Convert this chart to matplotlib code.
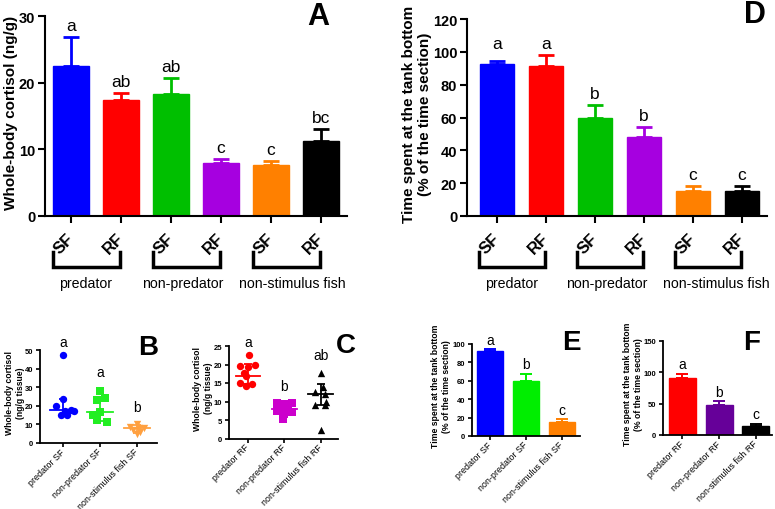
import matplotlib.pyplot as plt
import matplotlib.transforms as mtransforms
import numpy as np

plt.rcParams.update({
    'font.family': ['Liberation Sans', 'DejaVu Sans'],
    'axes.unicode_minus': False,
})

# ── colours ─────────────────────────────────────────────
BLUE = '#0000ff'
RED = '#ff0000'
GREEN = '#00bf00'
LIME = '#00ee00'
PURPLE = '#a600e0'
MAGENTA = '#cc00cc'
DPURPLE = '#660099'
ORANGE = '#ff8000'
LORANGE = '#ffa040'
BLACK = '#000000'

# ── data: panel A (cortisol) / D (time at bottom) ───────
BAR_TICKS = ['SF', 'RF', 'SF', 'RF', 'SF', 'RF']
GROUPS = ['predator', 'non-predator', 'non-stimulus fish']
A_MEAN = [22.5, 17.4, 18.3, 8.0, 7.6, 11.2]
A_ERR = [4.3, 1.0, 2.4, 0.5, 0.7, 1.8]
A_LET = ['a', 'ab', 'ab', 'c', 'c', 'bc']
D_MEAN = [92.8, 91.5, 59.5, 48.0, 15.5, 15.3]
D_ERR = [1.7, 6.5, 8.2, 6.0, 2.8, 3.0]
D_LET = ['a', 'a', 'b', 'b', 'c', 'c']
AD_COLORS = [BLUE, RED, GREEN, PURPLE, ORANGE, BLACK]

# ── data: panel B / C (individual cortisol) ─────────────
B_CATS = ['predator SF', 'non-predator SF', 'non-stimulus fish SF']
B_PTS = [
    [47.5, 23.6, 19.8, 17.6, 17.4, 17.3, 15.2, 14.8],
    [28.2, 24.1, 22.9, 16.6, 14.8, 12.1, 11.5],
    [10.0, 8.6, 8.3, 8.0, 7.0, 5.8, 4.6],
]
B_MED = [17.5, 16.6, 8.0]
B_LO = [15.0, 11.8, 5.6]
B_HI = [23.6, 23.5, 9.6]
B_LET = ['a', 'a', 'b']
B_LET_Y = [54.5, 38.0, 19.5]

C_CATS = ['predator RF', 'non-predator RF', 'non-stimulus fish RF']
C_PTS = [
    [22.5, 20.0, 19.5, 19.4, 17.6, 16.8, 15.0, 14.6, 14.1],
    [9.6, 9.5, 9.2, 8.6, 8.3, 7.5, 7.2, 6.5, 5.3],
    [17.8, 14.0, 12.5, 12.0, 10.0, 9.0, 9.0, 2.3],
]
C_MED = [16.8, 8.0, 12.0]
C_LO = [14.6, 7.0, 9.0]
C_HI = [20.1, 9.3, 14.6]
C_LET = ['a', 'b', 'ab']
C_LET_Y = [26.0, 14.2, 22.6]

# ── data: panel E / F (time at bottom, split) ───────────
E_CATS = ['predator SF', 'non-predator SF', 'non-stimulus fish SF']
E_MEAN = [92.8, 59.5, 15.5]
E_ERR = [1.7, 8.2, 2.8]
E_LET = ['a', 'b', 'c']
F_CATS = ['predator RF', 'non-predator RF', 'non-stimulus fish RF']
F_MEAN = [91.5, 48.0, 15.0]
F_ERR = [6.5, 6.0, 3.0]
F_LET = ['a', 'b', 'c']

# horizontal spread of the dots (GraphPad-style scatter)
B_JIT = [
    [0.0, 0.0, -0.2, 0.22, 0.05, 0.3, -0.05, 0.1],
    [0.0, 0.14, -0.09, 0.0, -0.2, -0.09, 0.2],
    [0.0, -0.2, 0.2, 0.05, -0.1, 0.08, 0.0],
]
C_JIT = [
    [0.03, 0.2, -0.22, 0.0, -0.1, -0.05, -0.22, 0.1, -0.05],
    [-0.2, 0.2, 0.0, -0.1, 0.1, -0.2, 0.2, 0.0, -0.05],
    [0.0, 0.05, -0.15, 0.1, 0.15, -0.15, 0.1, 0.0],
]

W, H = 775, 510
fig = plt.figure(figsize=(W / 100, H / 100), dpi=100)


def px_axes(left, right, top, bottom):
    return fig.add_axes([left / W, 1 - bottom / H, (right - left) / W, (bottom - top) / H])


def style(ax, lw, tl, tw, size):
    for s in ['top', 'right']:
        ax.spines[s].set_visible(False)
    for s in ['left', 'bottom']:
        ax.spines[s].set_linewidth(lw)
    ax.tick_params(direction='out', length=tl, width=tw, labelsize=size, pad=2)


def bars(ax, mean, err, colors, width, elw, cap, letters, let_y, fs, off):
    x = np.arange(len(mean))
    ax.bar(x, mean, width=width, color=colors, edgecolor=colors, zorder=2)
    for i in x:
        ax.errorbar(i, mean[i], yerr=[[0], [err[i]]], fmt='none', ecolor=colors[i],
                    elinewidth=elw, capsize=cap, capthick=elw, zorder=1)
        ax.annotate(letters[i], (i, let_y[i]), xytext=(0, off), textcoords='offset points',
                    ha='center', va='baseline', fontsize=fs, annotation_clip=False)


def big_panel(ax, ylim, yticks, ylabel, lab_x, label_x):
    style(ax, 1.5, 5, 1.5, 10.5)
    ax.set_ylim(*ylim)
    ax.set_yticks(yticks)
    ax.set_yticklabels([str(v) for v in yticks], fontweight='bold')
    ax.set_xticks(range(6))
    ax.set_xticklabels(BAR_TICKS, rotation=45, ha='right', va='center',
                       rotation_mode='anchor', fontweight='bold', fontsize=12)
    ax.tick_params(axis='x', pad=9)
    ax.set_ylabel(ylabel, fontsize=11, fontweight='bold')
    ax.yaxis.set_label_coords(lab_x, 0.52)
    trans = mtransforms.blended_transform_factory(ax.transData, ax.transAxes)
    h = ax.bbox.height
    y1, y2 = -36 / h, -51 / h
    for g, name in enumerate(GROUPS):
        l, r = 2 * g - 0.36, 2 * g + 0.98
        ax.plot([l, l, r, r], [y1, y2, y2, y1], color='black', lw=2.5,
                transform=trans, clip_on=False, solid_joinstyle='miter')
        ax.text(label_x[g], -67 / h, name, transform=trans, ha='center', va='center',
                fontsize=10.2)


def small_panel(ax, ylim, yticks, cats, ylabel, lab_x):
    style(ax, 1.3, 3, 1.2, 5.5)
    ax.set_ylim(*ylim)
    ax.set_yticks(yticks)
    ax.set_yticklabels([str(v) for v in yticks], fontweight='bold')
    ax.set_xticks(range(3))
    ax.set_xticklabels(cats, rotation=45, ha='right', va='center',
                       rotation_mode='anchor', fontsize=6.4)
    ax.tick_params(axis='x', pad=2)
    ax.set_ylabel(ylabel, fontsize=6.2, fontweight='bold', linespacing=1.3)
    ax.yaxis.set_label_coords(lab_x, 0.55)


def dots(ax, pts, jit, med, lo, hi, colors, markers, letters, let_y):
    for i in range(len(pts)):
        x = i + np.array(jit[i])
        ax.scatter(x, pts[i], s=28, marker=markers[i], color=colors[i], zorder=3,
                   clip_on=False, linewidths=0)
        ax.errorbar(i, med[i], yerr=[[med[i] - lo[i]], [hi[i] - med[i]]], fmt='none',
                    ecolor=colors[i], elinewidth=1.3, capsize=3, capthick=1.3, zorder=2)
        ax.plot([i - 0.34, i + 0.34], [med[i], med[i]], color=colors[i], lw=1.3, zorder=2)
        ax.text(i, let_y[i], letters[i], ha='center', va='center', fontsize=10,
                clip_on=False)


# ── panel A ─────────────────────────────────────────────
axA = px_axes(45, 347, 17, 217)
axA.set_xlim(-0.52, 5.52)
bars(axA, A_MEAN, A_ERR, AD_COLORS, 0.72, 2.0, 6,
     A_LET, np.add(A_MEAN, A_ERR), 12.5, 5)
big_panel(axA, (0, 30), [0, 10, 20, 30], 'Whole-body cortisol (ng/g)', -0.09,
          [0.3, 2.24, 4.42])

# ── panel D ─────────────────────────────────────────────
axD = px_axes(467, 767, 20, 217)
axD.set_xlim(-0.61, 5.51)
d_top = np.add(D_MEAN, D_ERR)
d_top[0] = d_top[1]
bars(axD, D_MEAN, D_ERR, AD_COLORS, 0.71, 2.0, 6,
     D_LET, d_top, 12.5, 5)
big_panel(axD, (0, 120), [0, 20, 40, 60, 80, 100, 120],
          'Time spent at the tank bottom\n(% of the time section)', -0.115,
          [0.3, 2.24, 4.48])

# ── panel B ─────────────────────────────────────────────
axB = px_axes(40, 157, 351, 444)
axB.set_xlim(-0.62, 2.54)
small_panel(axB, (0, 50), [0, 10, 20, 30, 40, 50], B_CATS,
            'Whole-body cortisol\n(ng/g tissue)', -0.13)
dots(axB, B_PTS, B_JIT, B_MED, B_LO, B_HI, [BLUE, '#22ee22', LORANGE],
     ['o', 's', 'v'], B_LET, B_LET_Y)

# ── panel C ─────────────────────────────────────────────
axC = px_axes(229, 338, 347, 439.5)
axC.set_xlim(-0.52, 2.47)
small_panel(axC, (0, 25), [0, 5, 10, 15, 20, 25], C_CATS,
            'Whole-body cortisol\n(ng/g tissue)', -0.15)
dots(axC, C_PTS, C_JIT, C_MED, C_LO, C_HI, [RED, MAGENTA, BLACK],
     ['o', 's', '^'], C_LET, C_LET_Y)

# ── panel E ─────────────────────────────────────────────
axE = px_axes(472, 580, 345, 437)
axE.set_xlim(-0.5, 2.5)
bars(axE, E_MEAN, E_ERR, [BLUE, LIME, ORANGE], 0.72, 1.4, 4,
     E_LET, np.add(E_MEAN, E_ERR), 10, 4)
small_panel(axE, (0, 100), [0, 20, 40, 60, 80, 100], E_CATS,
            'Time spent at the tank bottom\n(% of the time section)', -0.19)

# ── panel F ─────────────────────────────────────────────
axF = px_axes(663, 772, 342, 436)
axF.set_xlim(-0.53, 2.44)
bars(axF, F_MEAN, F_ERR, [RED, DPURPLE, BLACK], 0.73, 1.4, 4,
     F_LET, np.add(F_MEAN, F_ERR), 10, 4)
small_panel(axF, (0, 150), [0, 50, 100, 150], F_CATS,
            'Time spent at the tank bottom\n(% of the time section)', -0.18)

# ── panel letters ───────────────────────────────────────
for lab, x, y, fs in [('A', 318, 17, 22), ('D', 755, 15, 22), ('B', 148, 348, 20),
                      ('C', 346, 346, 20), ('E', 571, 343, 20), ('F', 752, 343, 20)]:
    fig.text(x / W, 1 - y / H, lab, ha='center', va='center', fontsize=fs,
             fontweight='bold')

fig.savefig('out.png', dpi=100, facecolor='white')
